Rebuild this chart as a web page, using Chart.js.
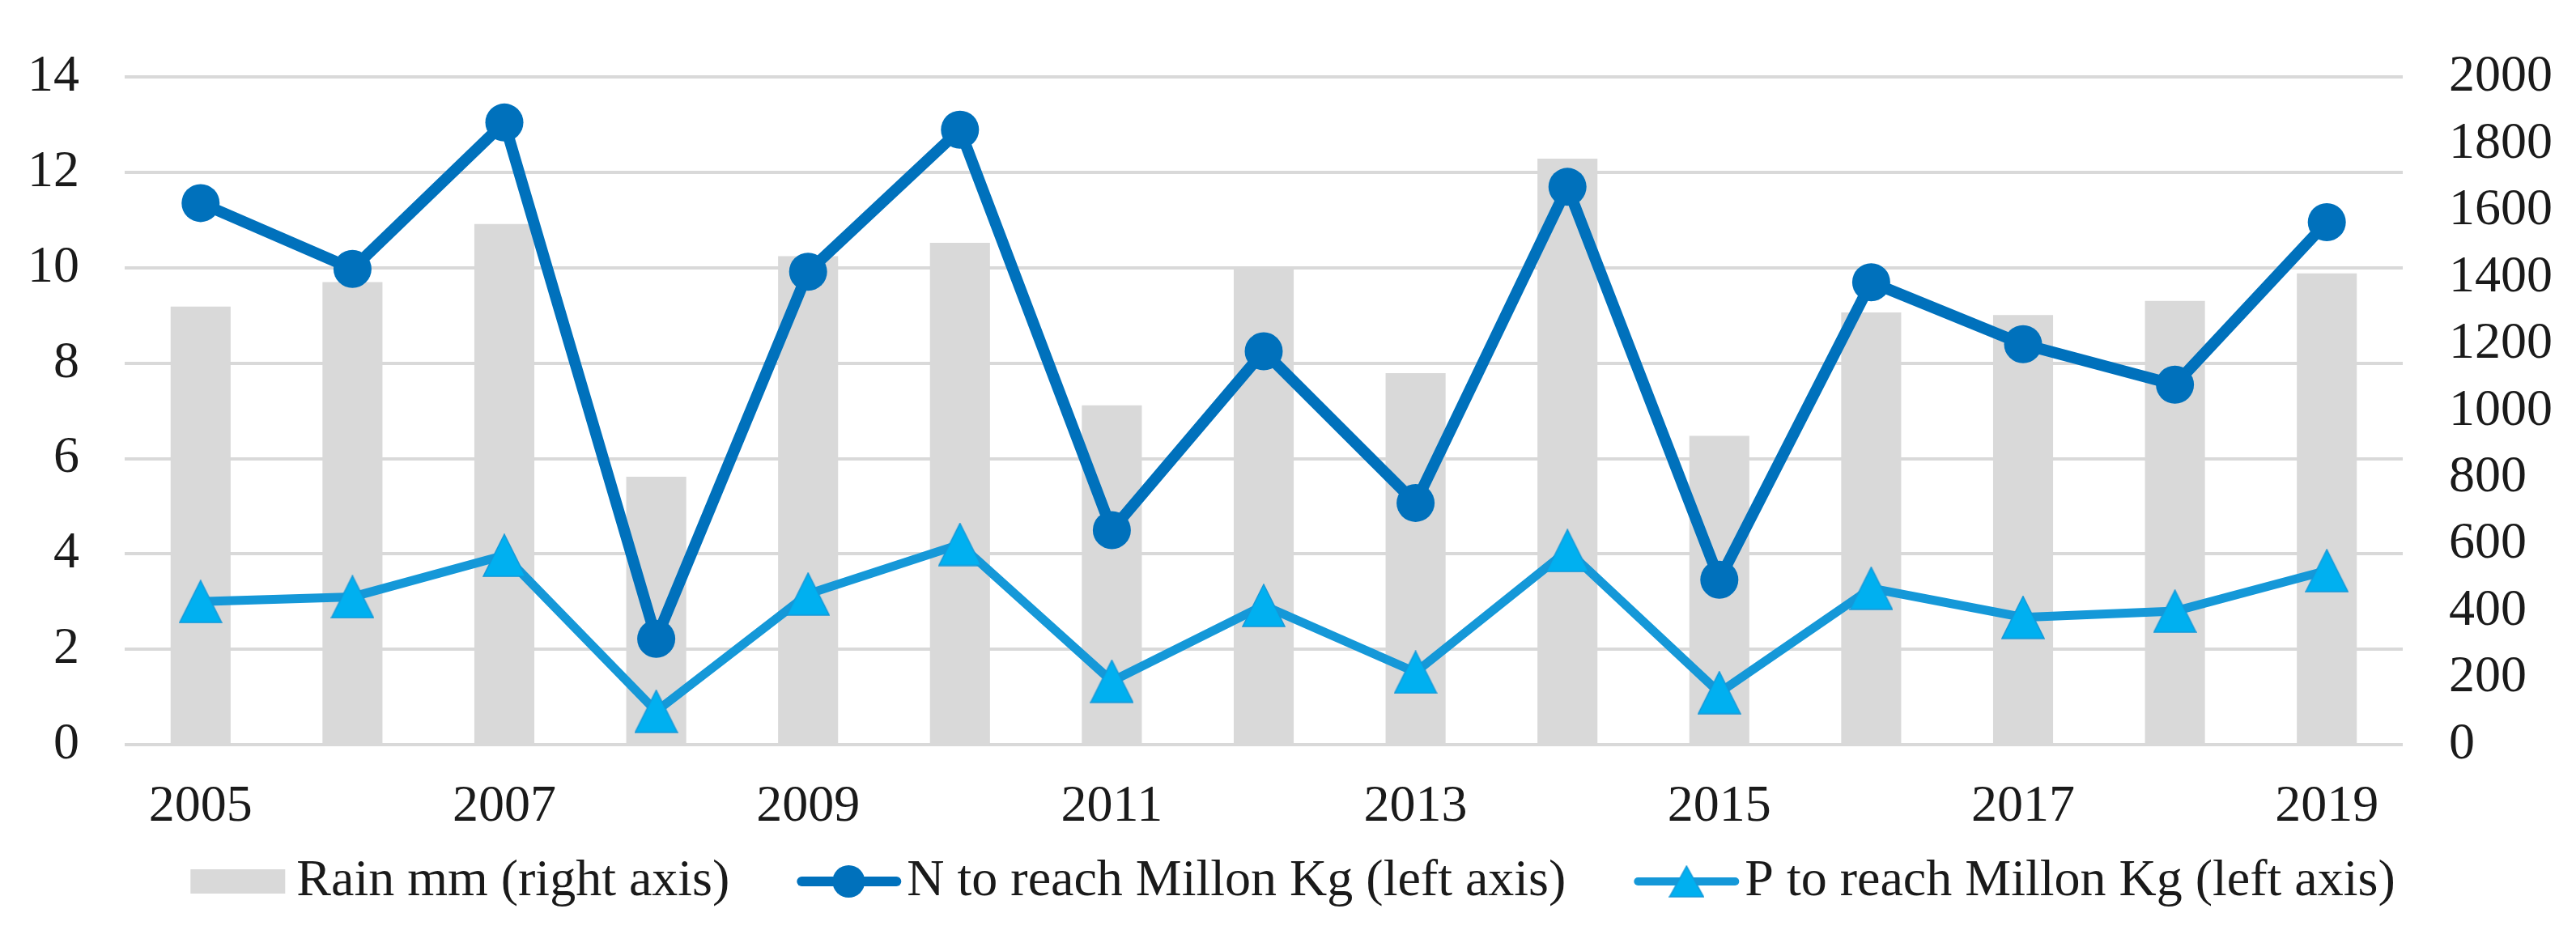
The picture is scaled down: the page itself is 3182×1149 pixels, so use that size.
<!DOCTYPE html>
<html>
<head>
<meta charset="utf-8">
<script src="https://cdn.jsdelivr.net/npm/chart.js@4/dist/chart.umd.min.js"></script>
<style>
  html, body { margin: 0; padding: 0; background: #fff; overflow: hidden; }
  #wrap { width: 3182px; height: 1149px; }
</style>
</head>
<body>
<div id="wrap"><canvas id="chart"></canvas></div>
<script>
// data
const years = ["2005","2006","2007","2008","2009","2010","2011","2012","2013","2014","2015","2016","2017","2018","2019"];
const rainMm = [1313, 1386, 1560, 803, 1464, 1504, 1017, 1431, 1113, 1756, 925, 1295, 1287, 1330, 1412];
const nMillonKg = [11.36, 9.98, 13.05, 2.22, 9.92, 12.9, 4.5, 8.25, 5.07, 11.7, 3.46, 9.7, 8.4, 7.55, 10.96];
const pMillonKg = [3.0, 3.1, 3.97, 0.7, 3.16, 4.2, 1.33, 2.92, 1.52, 4.07, 1.09, 3.28, 2.67, 2.8, 3.65];
const leftTicks = [0, 14, 2];
const rightTicks = [0, 2000, 200];
const legendLabels = ["Rain mm (right axis)", "N to reach Millon Kg (left axis)", "P to reach Millon Kg (left axis)"];

const FONT = "'Liberation Serif', 'Times New Roman', serif";
const TEXT = '#1a1a1a';
const GREY = '#d9d9d9';
const NBLUE = '#0071bc';
const PLINE = '#1598d8';
const PFILL = '#00b0f0';

// triangle marker centred on its box, like the spreadsheet one
function triangle(w, h) {
  const c = document.createElement('canvas');
  c.width = w; c.height = h;
  const g = c.getContext('2d');
  g.beginPath();
  g.moveTo(w / 2, 1);
  g.lineTo(w - 1, h - 1);
  g.lineTo(1, h - 1);
  g.closePath();
  g.fillStyle = PFILL;
  g.fill();
  g.lineWidth = 1.5;
  g.strokeStyle = PLINE;
  g.stroke();
  return c;
}
const triMark = triangle(54, 54);
const triLegend = triangle(44, 40);

/* legend drawn by hand: box for rain, line+marker for N and P */
const sketchLegend = {
  id: 'sketchLegend',
  afterDraw(chart) {
    const ctx = chart.ctx;
    ctx.save();
    ctx.font = '64px ' + FONT;
    ctx.fillStyle = TEXT;
    ctx.textBaseline = 'middle';
    const items = [
      { w: 117, gap: 14, draw(x, y) { ctx.fillStyle = GREY; ctx.fillRect(x, y - 15, 117, 30); } },
      { w: 127, gap: 8, draw(x, y) {
          ctx.strokeStyle = NBLUE; ctx.lineWidth = 12; ctx.lineCap = 'round';
          ctx.beginPath(); ctx.moveTo(x + 5, y); ctx.lineTo(x + 122, y); ctx.stroke();
          ctx.fillStyle = NBLUE; ctx.beginPath(); ctx.arc(x + 63, y, 20, 0, Math.PI * 2); ctx.fill();
        } },
      { w: 130, gap: 7, draw(x, y) {
          ctx.strokeStyle = PLINE; ctx.lineWidth = 10; ctx.lineCap = 'round';
          ctx.beginPath(); ctx.moveTo(x + 5, y); ctx.lineTo(x + 125, y); ctx.stroke();
          ctx.drawImage(triLegend, x + 65 - triLegend.width / 2, y - triLegend.height / 2);
        } }
    ];
    const spacing = 84;
    let total = 0;
    items.forEach((it, i) => {
      it.tw = ctx.measureText(legendLabels[i]).width;
      total += it.w + it.gap + it.tw;
    });
    total += spacing * (items.length - 1);
    let x = chart.width / 2 - total / 2 + 6;
    const y = chart.height - 60;
    items.forEach((it, i) => {
      it.draw(x, y);
      ctx.fillStyle = TEXT;
      ctx.fillText(legendLabels[i], x + it.w + it.gap, y);
      x += it.w + it.gap + it.tw + spacing;
    });
    ctx.restore();
  }
};

Chart.defaults.font.family = FONT;
Chart.defaults.font.size = 64;
Chart.defaults.color = TEXT;

new Chart(document.getElementById('chart'), {
  type: 'bar',
  data: {
    labels: years,
    datasets: [
      {
        type: 'line',
        label: legendLabels[1],
        data: nMillonKg,
        yAxisID: 'y',
        borderColor: NBLUE,
        backgroundColor: NBLUE,
        borderWidth: 14,
        pointRadius: 23.5,
        pointBorderWidth: 0,
        pointBackgroundColor: NBLUE,
        tension: 0,
        order: 2
      },
      {
        type: 'line',
        label: legendLabels[2],
        data: pMillonKg,
        yAxisID: 'y',
        borderColor: PLINE,
        backgroundColor: PFILL,
        borderWidth: 11,
        pointStyle: triMark,
        pointRadius: 27,
        tension: 0,
        order: 1
      },
      {
        type: 'bar',
        label: legendLabels[0],
        data: rainMm,
        yAxisID: 'y1',
        backgroundColor: GREY,
        borderWidth: 0,
        barPercentage: 0.395,
        categoryPercentage: 1,
        order: 3
      }
    ]
  },
  options: {
    responsive: true,
    maintainAspectRatio: false,
    devicePixelRatio: 1,
    animation: false,
    layout: { padding: { left: 34, right: 29, top: 78, bottom: 114 } },
    plugins: {
      legend: { display: false },
      tooltip: { enabled: false }
    },
    scales: {
      x: {
        grid: { display: false, drawTicks: false },
        border: { display: false },
        afterFit: (s) => { s.height = 115; },
        ticks: {
          autoSkip: false,
          maxRotation: 0,
          padding: 39,
          callback: function (v, i) { return i % 2 === 0 ? this.getLabelForValue(v) : ''; }
        }
      },
      y: {
        position: 'left',
        min: leftTicks[0], max: leftTicks[1],
        grid: { color: GREY, lineWidth: 4, drawTicks: false },
        border: { display: false },
        afterFit: (s) => { s.width = 120; },
        ticks: { stepSize: leftTicks[2], padding: 56, autoSkip: false }
      },
      y1: {
        position: 'right',
        min: rightTicks[0], max: rightTicks[1],
        grid: { display: false, drawTicks: false },
        border: { display: false },
        afterFit: (s) => { s.width = 185; },
        ticks: { stepSize: rightTicks[2], padding: 57, autoSkip: false, callback: (v) => String(v) }
      }
    }
  },
  plugins: [sketchLegend]
});
</script>
</body>
</html>
